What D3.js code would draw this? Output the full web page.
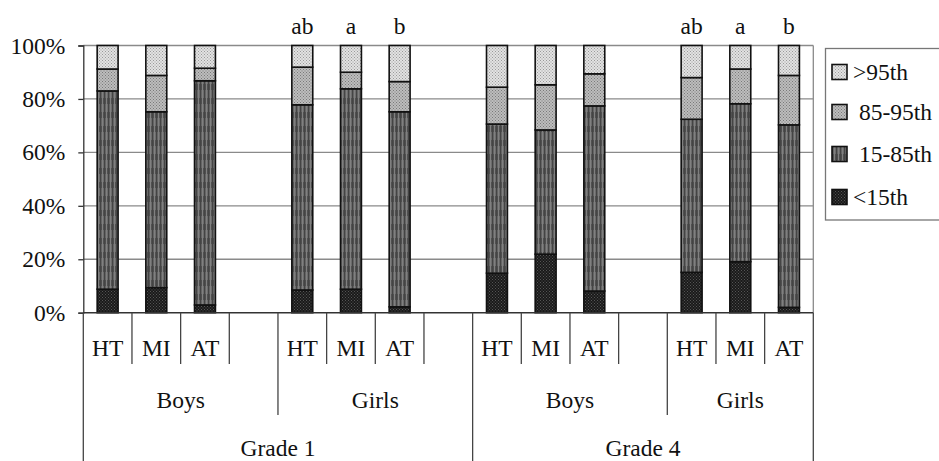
<!DOCTYPE html>
<html>
<head>
<meta charset="utf-8">
<script src="https://cdn.jsdelivr.net/npm/d3@7"></script>
<style>
  html, body { margin: 0; padding: 0; background: #fff; }
  svg { display: block; }
</style>
</head>
<body>
<svg id="chart" width="939" height="461" font-family="Liberation Serif"></svg>
<script>
// ---------------- data ----------------
const grades = ["Grade 1", "Grade 4"];
const sexes = ["Boys", "Girls"];
const subCategories = ["HT", "MI", "AT"];
const seriesNames = ["<15th", "15-85th", "85-95th", ">95th"];
const legendLabels = [">95th", " 85-95th", " 15-85th", "<15th"];
// bar order: G1 Boys HT,MI,AT | G1 Girls HT,MI,AT | G4 Boys HT,MI,AT | G4 Girls HT,MI,AT
const below15 = [8.8, 9.4, 2.9, 8.5, 8.8, 2.2, 14.8, 21.9, 8.1, 15.1, 19.1, 2.0];
const p15to85 = [74.2, 65.8, 83.9, 69.3, 75.0, 73.0, 55.8, 46.5, 69.3, 57.3, 59.1, 68.3];
const p85to95 = [8.2, 13.6, 4.7, 14.1, 6.2, 11.3, 13.8, 16.9, 12.0, 15.6, 13.0, 18.5];
const above95 = [8.8, 11.2, 8.5, 8.1, 10.0, 13.5, 15.6, 14.7, 10.6, 12.0, 8.8, 11.2];
const sigLetters = ["", "", "", "ab", "a", "b", "", "", "", "ab", "a", "b"];
const yTickValues = [0, 20, 40, 60, 80, 100];

// ---------------- layout ----------------
const FONT = "Liberation Serif";
const FS = 23.5;
const svg = d3.select("#chart");
const plot = { left: 83.3, right: 813.3, top: 45.5, bottom: 312.7 };

// build slots: each sex group has 3 bars + 1 blank spacer (except the last group)
const slots = [];
let barIdx = 0;
grades.forEach((g, gi) => {
  sexes.forEach((s, si) => {
    subCategories.forEach(c => {
      slots.push({ id: slots.length, grade: gi, sex: si, cat: c, bar: barIdx++ });
    });
    const last = gi === grades.length - 1 && si === sexes.length - 1;
    if (!last) slots.push({ id: slots.length, grade: gi, sex: si, cat: "", bar: null });
  });
});

const x = d3.scaleBand().domain(slots.map(d => d.id)).range([plot.left, plot.right]).padding(0);
const y = d3.scaleLinear().domain([0, 100]).range([plot.bottom, plot.top]);

const bars = slots.filter(d => d.bar !== null).map(d => {
  const i = d.bar;
  return { slot: d.id, cat: d.cat, letter: sigLetters[i],
    "<15th": below15[i], "15-85th": p15to85[i], "85-95th": p85to95[i], ">95th": above95[i] };
});
const stacked = d3.stack().keys(seriesNames)(bars);

// ---------------- patterns ----------------
const defs = svg.append("defs");
function dotPattern(id, bg, dot, size) {
  const p = defs.append("pattern").attr("id", id).attr("patternUnits", "userSpaceOnUse")
    .attr("width", size).attr("height", size);
  p.append("rect").attr("width", size).attr("height", size).attr("fill", bg);
  p.append("rect").attr("x", 0).attr("y", 0).attr("width", 1).attr("height", 1).attr("fill", dot);
  p.append("rect").attr("x", size / 2).attr("y", size / 2).attr("width", 1).attr("height", 1).attr("fill", dot);
}
dotPattern("pGt95", "#e2e2e2", "#9a9a9a", 3);
dotPattern("p85", "#bdbdbd", "#7a7a7a", 3);
dotPattern("pLt15", "#1a1a1a", "#555", 3);
{
  const p = defs.append("pattern").attr("id", "pMid").attr("patternUnits", "userSpaceOnUse")
    .attr("width", 4).attr("height", 14);
  p.append("rect").attr("width", 4).attr("height", 14).attr("fill", "#6c6c6c");
  p.append("rect").attr("y", 0).attr("width", 4).attr("height", 6).attr("fill", "#505050");
  p.append("rect").attr("x", 0).attr("width", 1.2).attr("height", 14).attr("fill", "#444");
  p.append("rect").attr("x", 2).attr("width", 1).attr("height", 14).attr("fill", "#808080");
}
const fills = { "<15th": "url(#pLt15)", "15-85th": "url(#pMid)", "85-95th": "url(#p85)", ">95th": "url(#pGt95)" };
const legendFills = { ">95th": "url(#pGt95)", " 85-95th": "url(#p85)", " 15-85th": "url(#pMid)", "<15th": "url(#pLt15)" };

// ---------------- gridlines & frame ----------------
svg.append("g").selectAll("line").data(yTickValues.filter(v => v > 0)).join("line")
  .attr("x1", plot.left).attr("x2", plot.right)
  .attr("y1", d => y(d)).attr("y2", d => y(d))
  .attr("stroke", "#8a8a8a").attr("stroke-width", 1.3);
svg.append("line").attr("x1", plot.right).attr("x2", plot.right)
  .attr("y1", plot.top).attr("y2", plot.bottom).attr("stroke", "#8a8a8a").attr("stroke-width", 1.3);

// ---------------- y axis ----------------
const yAxis = d3.axisLeft(y).tickValues(yTickValues).tickFormat(d => d + "%").tickSize(5).tickPadding(13);
const ya = svg.append("g").attr("transform", `translate(${plot.left},0)`).call(yAxis)
  .attr("font-family", FONT).attr("font-size", FS);
ya.select(".domain").attr("stroke", "#333").attr("stroke-width", 1.3);
ya.selectAll(".tick line").attr("stroke", "#333").attr("stroke-width", 1.3);
ya.selectAll(".tick text").attr("font-family", FONT).attr("font-size", FS).attr("fill", "#111");

// ---------------- bars ----------------
const bw = x.bandwidth() * 0.43;
const layers = svg.append("g").selectAll("g").data(stacked).join("g")
  .attr("fill", d => fills[d.key]);
layers.selectAll("rect").data(d => d).join("rect")
  .attr("x", d => x(d.data.slot) + (x.bandwidth() - bw) / 2)
  .attr("width", bw)
  .attr("y", d => y(d[1]))
  .attr("height", d => y(d[0]) - y(d[1]))
  .attr("stroke", "#111").attr("stroke-width", 1.6);

// significance letters
svg.append("g").selectAll("text").data(bars.filter(b => b.letter)).join("text")
  .attr("x", d => x(d.slot) + x.bandwidth() / 2)
  .attr("y", 34)
  .attr("text-anchor", "middle").attr("font-family", FONT).attr("font-size", FS).attr("fill", "#111")
  .text(d => d.letter);

// ---------------- hierarchical x axis ----------------
const xa = svg.append("g");
xa.append("line").attr("x1", plot.left).attr("x2", plot.right)
  .attr("y1", plot.bottom).attr("y2", plot.bottom).attr("stroke", "#333").attr("stroke-width", 1.5);

const edgeX = i => (i < slots.length ? x(i) : plot.right);
const boundaries = d3.range(slots.length + 1).map(i => {
  let level = 0;
  if (i === 0 || i === slots.length) level = 2;
  else {
    const a = slots[i - 1], b = slots[i];
    if (a.grade !== b.grade) level = 2;
    else if (a.sex !== b.sex) level = 1;
  }
  return { i, level };
});
const levelBottom = [364, 415, 461];
xa.selectAll("line.b").data(boundaries).join("line").attr("class", "b")
  .attr("x1", d => edgeX(d.i)).attr("x2", d => edgeX(d.i))
  .attr("y1", plot.bottom).attr("y2", d => levelBottom[d.level])
  .attr("stroke", "#444").attr("stroke-width", 1.3);

// category labels
xa.selectAll("text.cat").data(slots.filter(s => s.cat)).join("text").attr("class", "cat")
  .attr("x", d => x(d.id) + x.bandwidth() / 2).attr("y", 356)
  .attr("text-anchor", "middle").attr("font-family", FONT).attr("font-size", FS).attr("fill", "#111")
  .text(d => d.cat);

// sex group labels
const sexGroups = d3.groups(slots, d => d.grade + "-" + d.sex).map(([k, arr]) => ({
  label: sexes[arr[0].sex],
  x0: x(arr[0].id), x1: x(arr[arr.length - 1].id) + x.bandwidth()
}));
xa.selectAll("text.sex").data(sexGroups).join("text").attr("class", "sex")
  .attr("x", d => (d.x0 + d.x1) / 2).attr("y", 408)
  .attr("text-anchor", "middle").attr("font-family", FONT).attr("font-size", FS).attr("fill", "#111")
  .text(d => d.label);

// grade labels
const gradeGroups = d3.groups(slots, d => d.grade).map(([k, arr]) => ({
  label: grades[k],
  x0: x(arr[0].id), x1: x(arr[arr.length - 1].id) + x.bandwidth()
}));
xa.selectAll("text.grade").data(gradeGroups).join("text").attr("class", "grade")
  .attr("x", d => (d.x0 + d.x1) / 2).attr("y", 456)
  .attr("text-anchor", "middle").attr("font-family", FONT).attr("font-size", FS).attr("fill", "#111")
  .text(d => d.label);

// ---------------- legend ----------------
const lg = svg.append("g");
lg.append("rect").attr("x", 825.5).attr("y", 48.5).attr("width", 140).attr("height", 171.5)
  .attr("fill", "#fff").attr("stroke", "#777").attr("stroke-width", 1.3);
const legendY = [72, 112, 154, 197];
const items = lg.selectAll("g.item").data(legendLabels).join("g").attr("class", "item")
  .attr("transform", (d, i) => `translate(832,${legendY[i]})`);
items.append("rect").attr("x", 0).attr("y", -7.5).attr("width", 15).attr("height", 15)
  .attr("fill", d => legendFills[d]).attr("stroke", "#111").attr("stroke-width", 1.6);
items.append("text").attr("x", 21).attr("y", 8)
  .attr("font-family", FONT).attr("font-size", FS).attr("fill", "#111")
  .attr("xml:space", "preserve").style("white-space", "pre")
  .text(d => d);
</script>
</body>
</html>
